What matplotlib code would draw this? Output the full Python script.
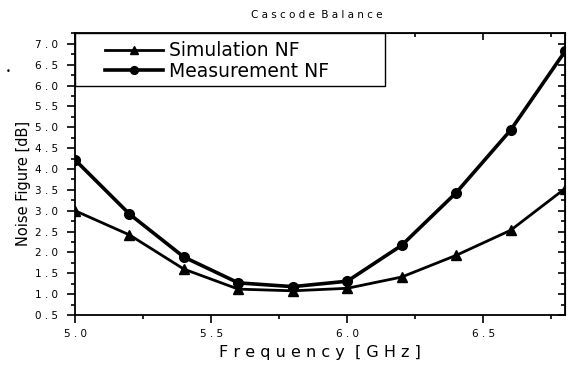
import matplotlib
matplotlib.use("Agg")
import matplotlib.pyplot as plt
from matplotlib.ticker import MultipleLocator, FuncFormatter
from matplotlib.patches import Rectangle

freq = [5.0, 5.2, 5.4, 5.6, 5.8, 6.0, 6.2, 6.4, 6.6, 6.8]
sim_nf = [3.0, 2.42, 1.6, 1.12, 1.08, 1.14, 1.41, 1.93, 2.53, 3.53]
meas_nf = [4.22, 2.92, 1.89, 1.27, 1.18, 1.31, 2.17, 3.43, 4.93, 6.82]

W, H = 583, 365
ax_l, ax_r, ax_t, ax_b = 75, 565, 33, 315
fig = plt.figure(figsize=(W / 100, H / 100), dpi=100)
ax = fig.add_axes([ax_l / W, 1 - ax_b / H, (ax_r - ax_l) / W, (ax_b - ax_t) / H])
axw, axh = ax_r - ax_l, ax_b - ax_t

ax.plot(freq, sim_nf, color='black', lw=2.0, marker='^', ms=7, label='Simulation NF')
ax.plot(freq, meas_nf, color='black', lw=2.6, marker='o', ms=7, label='Measurement NF')

spaced = FuncFormatter(lambda v, p: ' '.join(f'{v:.1f}'))

ax.set_xlim(5.0, 6.8)
ax.set_ylim(0.5, 7.26)
ax.xaxis.set_major_locator(MultipleLocator(0.5))
ax.xaxis.set_minor_locator(MultipleLocator(0.25))
ax.yaxis.set_major_locator(MultipleLocator(0.5))
ax.yaxis.set_minor_locator(MultipleLocator(0.25))
ax.xaxis.set_major_formatter(spaced)
ax.yaxis.set_major_formatter(spaced)
ax.tick_params(axis='both', which='both', direction='out', labelsize=7.5, width=1.2)
ax.tick_params(which='major', length=6)
ax.tick_params(which='minor', length=3)
ax.tick_params(axis='y', pad=6)
ax.tick_params(axis='x', pad=4)
for s in ax.spines.values():
    s.set_linewidth(1.3)

top = ax.secondary_xaxis('top')
top.xaxis.set_major_locator(MultipleLocator(0.5))
top.xaxis.set_minor_locator(MultipleLocator(0.25))
top.tick_params(which='both', direction='in', labeltop=False, width=1.2)
top.tick_params(which='major', length=5)
top.tick_params(which='minor', length=3)
right = ax.secondary_yaxis('right')
right.yaxis.set_major_locator(MultipleLocator(0.5))
right.yaxis.set_minor_locator(MultipleLocator(0.25))
right.tick_params(which='both', direction='in', labelright=False, width=1.2)
right.tick_params(which='major', length=5)
right.tick_params(which='minor', length=3)

fig.text((ax_l + ax_r) / 2 / W, 1 - 352 / H, 'F r e q u e n c y  [ G H z ]',
         fontsize=11.5, ha='center', va='center')
fig.text(24 / W, 1 - 183 / H, 'Noise Figure [dB]', fontsize=10.5,
         rotation=90, ha='center', va='center')
fig.text(317 / W, 1 - 15 / H, 'C a s c o d e  B a l a n c e', fontsize=7.5,
         ha='center', va='center')

# legend frame
ax.add_patch(Rectangle((0, 1 - 53 / axh), (385 - ax_l) / axw, 53 / axh,
                       transform=ax.transAxes, fill=True, facecolor='white',
                       edgecolor='black', lw=1.0, zorder=4, clip_on=False))
leg = ax.legend(loc='center left', bbox_to_anchor=((105 - ax_l) / axw, 1 - 28 / axh),
                fontsize=13.5, handlelength=3.1, frameon=False, borderaxespad=0,
                borderpad=0, labelspacing=0.1, handletextpad=0.3, markerscale=0.8)
leg.set_zorder(5)

fig.text(8 / W, 1 - 72 / H, '•', fontsize=6, ha='center', va='center')

fig.savefig('out.png', dpi=100)
